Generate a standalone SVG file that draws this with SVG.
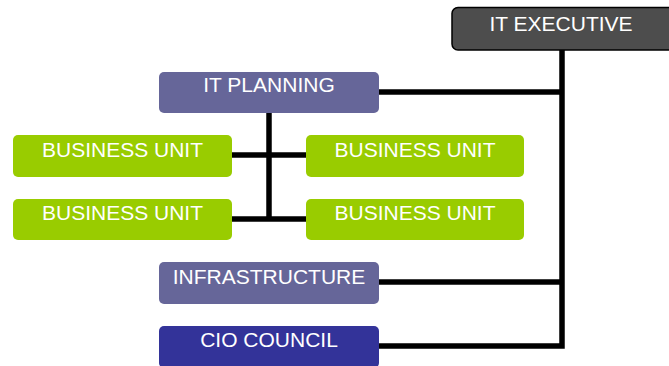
<svg xmlns="http://www.w3.org/2000/svg" width="669" height="366" viewBox="0 0 669 366">
<style>
.lbl{font-family:"Liberation Sans",Arial,sans-serif;font-size:21px;fill:#ffffff;text-anchor:middle}
.bu{fill:#99cc00}
.conn{stroke:#000;stroke-width:5.5;fill:none}
</style>
<rect width="669" height="366" fill="#fff"/>
<g id="connectors">
<path class="conn" d="M562 50 V346 H379"/>
<path class="conn" d="M379 92 H562"/>
<path class="conn" d="M379 282 H562"/>
<path class="conn" d="M269 113 V219"/>
<path class="conn" d="M232 155 H306"/>
<path class="conn" d="M232 219 H306"/>
</g>
<g id="it-executive">
<rect x="452" y="7.5" width="225" height="42.5" rx="6" fill="#4d4d4d" stroke="#000" stroke-width="1.5"/>
<text class="lbl" x="561" y="31">IT EXECUTIVE</text>
</g>
<g id="it-planning">
<rect x="159" y="72" width="220" height="41" rx="5" fill="#666699"/>
<text class="lbl" x="269" y="92">IT PLANNING</text>
</g>
<g id="bu1">
<rect class="bu" x="13" y="135" width="219" height="42" rx="5"/>
<text class="lbl" x="122.5" y="157">BUSINESS UNIT</text>
</g>
<g id="bu2">
<rect class="bu" x="306" y="135" width="218" height="42" rx="5"/>
<text class="lbl" x="415" y="157">BUSINESS UNIT</text>
</g>
<g id="bu3">
<rect class="bu" x="13" y="199" width="219" height="41" rx="5"/>
<text class="lbl" x="122.5" y="220">BUSINESS UNIT</text>
</g>
<g id="bu4">
<rect class="bu" x="306" y="199" width="218" height="41" rx="5"/>
<text class="lbl" x="415" y="220">BUSINESS UNIT</text>
</g>
<g id="infrastructure">
<rect x="159" y="262" width="220" height="42" rx="5" fill="#666699"/>
<text class="lbl" x="269" y="284">INFRASTRUCTURE</text>
</g>
<g id="cio-council">
<rect x="159" y="326" width="220" height="42" rx="5" fill="#333399"/>
<text class="lbl" x="269" y="347">CIO COUNCIL</text>
</g>
</svg>
